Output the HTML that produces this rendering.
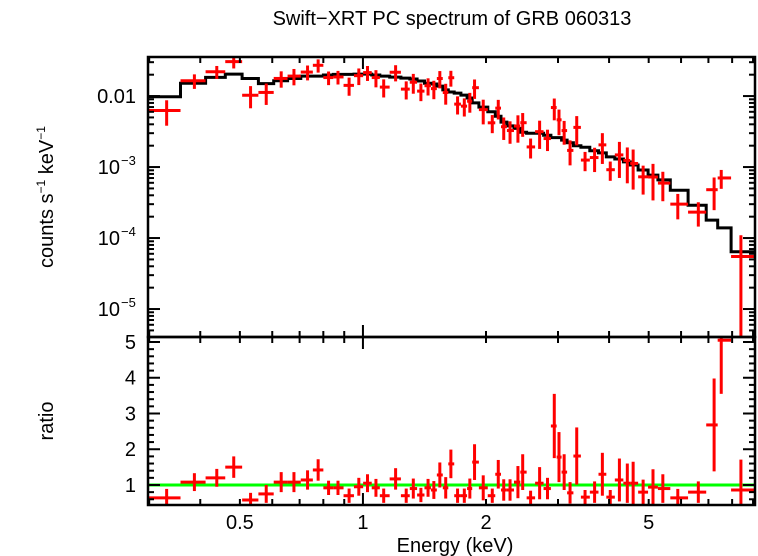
<!DOCTYPE html>
<html><head><meta charset="utf-8"><style>
html,body{margin:0;padding:0;background:#fff}
svg{display:block;font-family:"Liberation Sans",sans-serif}
</style></head><body>
<svg id="chart" width="758" height="556" viewBox="0 0 758 556" xmlns="http://www.w3.org/2000/svg">
<text x="452" y="25" font-size="20" text-anchor="middle">Swift−XRT PC spectrum of GRB 060313</text>
<text transform="translate(53,197) rotate(-90)" font-size="20" text-anchor="middle">counts s<tspan font-size="12" dy="-8">−1</tspan><tspan dy="8"> keV</tspan><tspan font-size="12" dy="-8">−1</tspan></text>
<text transform="translate(53,421) rotate(-90)" font-size="20" text-anchor="middle">ratio</text>
<text x="455" y="552" font-size="20" text-anchor="middle">Energy (keV)</text>
<g id="marks"></g>
</svg>
<script>
// ---- data ----
const energies = [0.331,0.387,0.439,0.483,0.531,0.580,0.631,0.678,0.732,0.777,0.824,0.869,0.925,0.977,1.026,1.076,1.124,1.202,1.276,1.328,1.386,1.443,1.491,1.542,1.594,1.641,1.704,1.770,1.826,1.875,1.969,2.072,2.143,2.210,2.290,2.394,2.459,2.571,2.705,2.828,2.938,3.017,3.106,3.211,3.334,3.494,3.687,3.852,4.027,4.240,4.433,4.581,4.846,5.123,5.415,5.891,6.613,7.228,7.524,8.406];
const ratios = [0.64,1.08,1.2,1.5,0.58,0.75,1.08,1.08,1.14,1.42,0.92,0.92,0.7,0.95,1.05,0.92,0.7,1.17,0.7,0.9,0.72,0.92,0.86,1.28,0.92,1.59,0.7,0.7,0.9,1.64,0.92,0.7,1.3,0.86,0.86,1.08,1.36,0.64,1.05,0.9,2.65,1.78,1.36,0.78,1.81,0.66,0.8,1.3,0.66,1.14,1.05,1.05,0.8,0.94,0.9,0.64,0.8,2.68,5.05,0.86];
const ratioErrs = [0.25,0.25,0.25,0.3,0.2,0.25,0.28,0.28,0.27,0.3,0.2,0.2,0.2,0.25,0.25,0.25,0.2,0.3,0.2,0.28,0.2,0.25,0.25,0.35,0.3,0.4,0.2,0.2,0.28,0.5,0.35,0.2,0.4,0.3,0.3,0.45,0.5,0.2,0.45,0.3,0.9,0.7,0.5,0.3,0.8,0.2,0.3,0.6,0.2,0.6,0.55,0.6,0.35,0.5,0.4,0.25,0.3,1.3,1.5,0.85];
const modelValues = [0.0098,0.0152,0.0183,0.0204,0.0177,0.015,0.0164,0.0177,0.0191,0.0191,0.0198,0.0202,0.0202,0.0204,0.0204,0.0198,0.0191,0.0185,0.0179,0.0174,0.0163,0.0152,0.0148,0.0138,0.0122,0.0114,0.0110,0.0103,0.0094,0.0080,0.0070,0.0060,0.0052,0.0043,0.0038,0.0035,0.0031,0.0030,0.0030,0.0028,0.0026,0.0026,0.0024,0.0022,0.0020,0.0019,0.0017,0.00158,0.00139,0.00130,0.00118,0.00107,0.00091,0.00077,0.00066,0.00047,0.00029,0.000179,0.000139,0.000064];
const xTickLabels = ["0.5","1","2","5"];
const xTickValues = [0.5,1,2,5];
const ratioTickValues = [1,2,3,4,5];

// ---- geometry ----
const X0=148,X1=755, T0=57, T1=337, B0=337, B1=505;
const EMIN=0.298, EMAX=9.1;
const LYMAX=Math.log10(0.0355), LYMIN=-5.394;
const RMIN=0.44, RMAX=5.14;
const xS=e=>X0+(Math.log10(e)-Math.log10(EMIN))/(Math.log10(EMAX)-Math.log10(EMIN))*(X1-X0);
const yT=v=>T0+(LYMAX-Math.log10(Math.max(v,1e-9)))/(LYMAX-LYMIN)*(T1-T0);
const yB=r=>B1-(r-RMIN)/(RMAX-RMIN)*(B1-B0);
const clip=(v,a,b)=>Math.max(a,Math.min(b,v));

const NS="http://www.w3.org/2000/svg";
const g=document.getElementById('marks');
function mk(tag,attrs,parent){const e=document.createElementNS(NS,tag);for(const k in attrs)e.setAttribute(k,attrs[k]);(parent||g).appendChild(e);return e;}

const edges=[EMIN];
for(let i=0;i<energies.length-1;i++)edges.push(Math.sqrt(energies[i]*energies[i+1]));
edges.push(EMAX);

let d="";
for(let i=0;i<energies.length;i++){
  const y=yT(modelValues[i]).toFixed(1);
  d+=(i===0?"M":"L")+xS(edges[i]).toFixed(1)+","+y+"L"+xS(edges[i+1]).toFixed(1)+","+y;
}
const model=mk('path',{d:d,fill:'none',stroke:'#000','stroke-width':3});



const unity=mk('line',{x1:X0,x2:X1,y1:yB(1),y2:yB(1),stroke:'#00ff00','stroke-width':3});



for(let i=0;i<energies.length;i++){
  const xl=xS(edges[i]),xr=xS(edges[i+1]),xc=xS(energies[i]);
  const v=modelValues[i]*ratios[i];
  const lo=modelValues[i]*Math.max(ratios[i]-ratioErrs[i],1e-6), hi=modelValues[i]*(ratios[i]+ratioErrs[i]);
  const gt=mk('g',{stroke:'#ff0000','stroke-width':3});
  
  
  mk('line',{x1:xl,x2:xr,y1:yT(v),y2:yT(v)},gt);
  mk('line',{x1:xc,x2:xc,y1:clip(yT(lo),T0,T1),y2:clip(yT(hi),T0,T1)},gt);
  const gb=mk('g',{stroke:'#ff0000','stroke-width':3});
  
  
  const yr=clip(yB(ratios[i]),B0,B1);
  mk('line',{x1:xl,x2:xr,y1:yr,y2:yr},gb);
  mk('line',{x1:xc,x2:xc,y1:clip(yB(ratios[i]-ratioErrs[i]),B0,B1),y2:clip(yB(ratios[i]+ratioErrs[i]),B0,B1)},gb);
}

const axes=mk('g',{stroke:'#000','stroke-width':2.5,fill:'none'});


mk('rect',{x:X0,y:T0,width:X1-X0,height:T1-T0},axes);
mk('rect',{x:X0,y:B0,width:X1-X0,height:B1-B0},axes);
const tk=mk('g',{stroke:'#000','stroke-width':2});
for(let dec=-1;dec<=0;dec++)for(let m=1;m<=9;m++){
  const e=m*Math.pow(10,dec); if(e<EMIN||e>EMAX)continue;
  const x=xS(e), L=(m===1)?12:6;
  [[T0,1],[T1,-1],[B0,1],[B1,-1]].forEach(([y,s])=>mk('line',{x1:x,x2:x,y1:y,y2:y+s*L},tk));
}
for(let dec=-6;dec<=-1;dec++)for(let m=1;m<=9;m++){
  const v=m*Math.pow(10,dec); const y=yT(v); if(y<T0||y>T1)continue;
  const L=(m===1)?12:6;
  mk('line',{x1:X0,x2:X0+L,y1:y,y2:y},tk);mk('line',{x1:X1,x2:X1-L,y1:y,y2:y},tk);
}
for(let r=0.6;r<=5.05;r+=0.2){
  const y=yB(r); const major=Math.abs(r-Math.round(r))<0.01; const L=major?12:6;
  mk('line',{x1:X0,x2:X0+L,y1:y,y2:y},tk);mk('line',{x1:X1,x2:X1-L,y1:y,y2:y},tk);
}
function txt(s,x,y,anchor,name){const t=mk('text',{x:x,y:y,'font-size':20,'text-anchor':anchor});t.textContent=s;
  
  return t;}
xTickLabels.forEach((s,i)=>txt(s,xS(xTickValues[i]),529,'middle','x-tick-label'));
ratioTickValues.forEach(r=>txt(String(r),136,yB(r)+7,'end','ratio-tick-label'));
txt("0.01",136,yT(0.01)+7,'end','y-tick-label');
[-3,-4,-5].forEach(p=>{const t=txt("10",120,yT(Math.pow(10,p))+7,'end','y-tick-label');
  const s=mk('text',{x:121,y:yT(Math.pow(10,p))-2,'font-size':13,'text-anchor':'start'});s.textContent="−"+(-p);
  
  });
</script>
</body></html>
